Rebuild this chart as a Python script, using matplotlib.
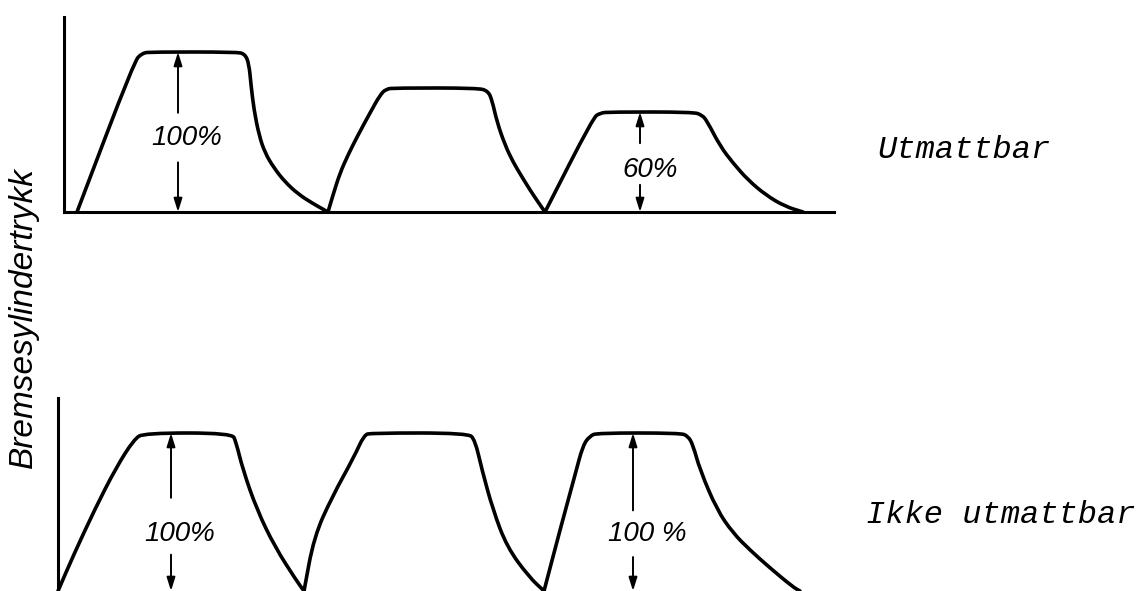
import matplotlib
matplotlib.use('Agg')
import matplotlib.pyplot as plt
from matplotlib.path import Path
from matplotlib.patches import PathPatch

# pressure pulses, (time, pressure in % of full pressure)
upper_pulse1 = [(13, 0), (70, 93.8), (78, 99.4), (88, 100), (172, 100), (181, 98.8), (185, 92.5),
                (187, 79.4), (190, 63.8), (195, 48.1), (201, 36.9), (210, 27.5), (221, 18.8),
                (234, 11.3), (248, 5.6), (264, 0)]
upper_pulse2 = [(264, 0), (269, 10.6), (276, 24.4), (284, 35.6), (293, 46.9), (306, 61.9), (316, 73.1),
                (322, 76.9), (331, 77.5), (414, 77.5), (424, 75.6), (428, 70), (433, 56.3), (441, 41.9),
                (449, 31.3), (458, 21.9), (466, 13.8), (474, 6.3), (481, 0)]
upper_pulse3 = [(481, 0), (529, 58.8), (536, 61.9), (546, 62.5), (629, 62.5), (638, 60.6), (643, 56.9),
                (656, 41.3), (669, 30.6), (684, 20), (702, 10.5), (721, 3.5), (739, 0)]

lower_pulse1 = [(0, 0), (15, 22), (37, 52), (58, 78), (76, 96), (86, 100), (174, 100),
                (178, 94.3), (185, 76.6), (199, 51.3), (217, 27.8), (238, 7.0), (246, 0)]
lower_pulse2 = [(246, 0), (256, 34.2), (274, 59.5), (296, 84.8), (306, 98.7), (313, 100), (410, 100),
                (417, 95.6), (424, 76.6), (435, 51.3), (449, 27.8), (471, 8.9), (486, 0)]
lower_pulse3 = [(486, 0), (502, 38.6), (517, 73.4), (525, 92.4), (532, 98.1), (539, 100), (622, 100),
                (630, 98.1), (635, 92.4), (642, 76.6), (659, 51.3), (675, 36.7), (692, 25.9),
                (712, 14.6), (735, 2.5), (742, 0)]

# measured levels
upper_arrow_t = [114, 576]
upper_arrow_level = [100, 62.5]
upper_labels = ['100%', '60%']
lower_arrow_t = [113, 575]
lower_arrow_level = [100, 100]
lower_labels = ['100%', '100 %']

ylabel = 'Bremsesylindertrykk'
upper_name = 'Utmattbar'
lower_name = 'Ikke utmattbar'

# layout: (gap top, gap bottom, label y, label x offset)
upper_gaps = [(62, 31, 46.5, 9), (43, 17, 26, 10)]
lower_gaps = [(59, 23, 36, 9), (51, 21.5, 36, 14)]

W, H = 1143, 591
fig = plt.figure(figsize=(W / 100, H / 100), dpi=100)
fig.patch.set_facecolor('white')

ax1 = fig.add_axes([64 / W, 379 / H, 770 / W, 195 / H])
ax2 = fig.add_axes([58 / W, 0, 770 / W, 193 / H])
ax1.set_xlim(0, 770)
ax1.set_ylim(0, 195 / 1.6)
ax2.set_xlim(0, 770)
ax2.set_ylim(0, 193 / 1.58)

for ax in (ax1, ax2):
    ax.set_facecolor('none')
    ax.set_xticks([])
    ax.set_yticks([])
    for s in ('top', 'right'):
        ax.spines[s].set_visible(False)
    ax.spines['left'].set_linewidth(2.2)
    ax.spines['bottom'].set_linewidth(2.2)
ax2.spines['bottom'].set_visible(False)


def smooth_path(pts):
    # quadratic b-spline through the midpoints of the waypoints
    verts = [pts[0], ((pts[0][0] + pts[1][0]) / 2, (pts[0][1] + pts[1][1]) / 2)]
    codes = [Path.MOVETO, Path.LINETO]
    for i in range(1, len(pts) - 1):
        nxt = pts[i + 1]
        verts += [pts[i], ((pts[i][0] + nxt[0]) / 2, (pts[i][1] + nxt[1]) / 2)]
        codes += [Path.CURVE3, Path.CURVE3]
    verts.append(pts[-1])
    codes.append(Path.LINETO)
    return Path(verts, codes)


for ax, pulses in ((ax1, (upper_pulse1, upper_pulse2, upper_pulse3)),
                   (ax2, (lower_pulse1, lower_pulse2, lower_pulse3))):
    for pulse in pulses:
        ax.add_patch(PathPatch(smooth_path(pulse), fill=False, lw=2.6, ec='black',
                               capstyle='round', joinstyle='round', clip_on=False))

arrow_style = dict(arrowstyle='-|>,head_length=0.8,head_width=0.25', color='black', lw=1.4,
                   shrinkA=0, shrinkB=0)
pct_font = dict(family='Liberation Sans', style='italic', size=20)

for ax, ts, levels, labels, gaps in ((ax1, upper_arrow_t, upper_arrow_level, upper_labels, upper_gaps),
                                     (ax2, lower_arrow_t, lower_arrow_level, lower_labels, lower_gaps)):
    for t, lvl, lab, (g_hi, g_lo, ly, dx) in zip(ts, levels, labels, gaps):
        ax.annotate('', xy=(t, lvl), xytext=(t, g_hi), arrowprops=arrow_style, annotation_clip=False)
        ax.annotate('', xy=(t, 0), xytext=(t, g_lo), arrowprops=arrow_style, annotation_clip=False)
        ax.text(t + dx, ly, lab, ha='center', va='center', **pct_font)

fig.text(23 / W, 1 - 317 / H, ylabel, rotation=90, ha='center', va='center',
         family='Liberation Sans', style='italic', size=24)
fig.text(877 / W, 1 - 158 / H, upper_name, ha='left', va='baseline',
         family='Liberation Mono', style='italic', size=23)
fig.text(866 / W, 1 - 523 / H, lower_name, ha='left', va='baseline',
         family='Liberation Mono', style='italic', size=23)

fig.savefig('out.png', dpi=100, facecolor='white')
